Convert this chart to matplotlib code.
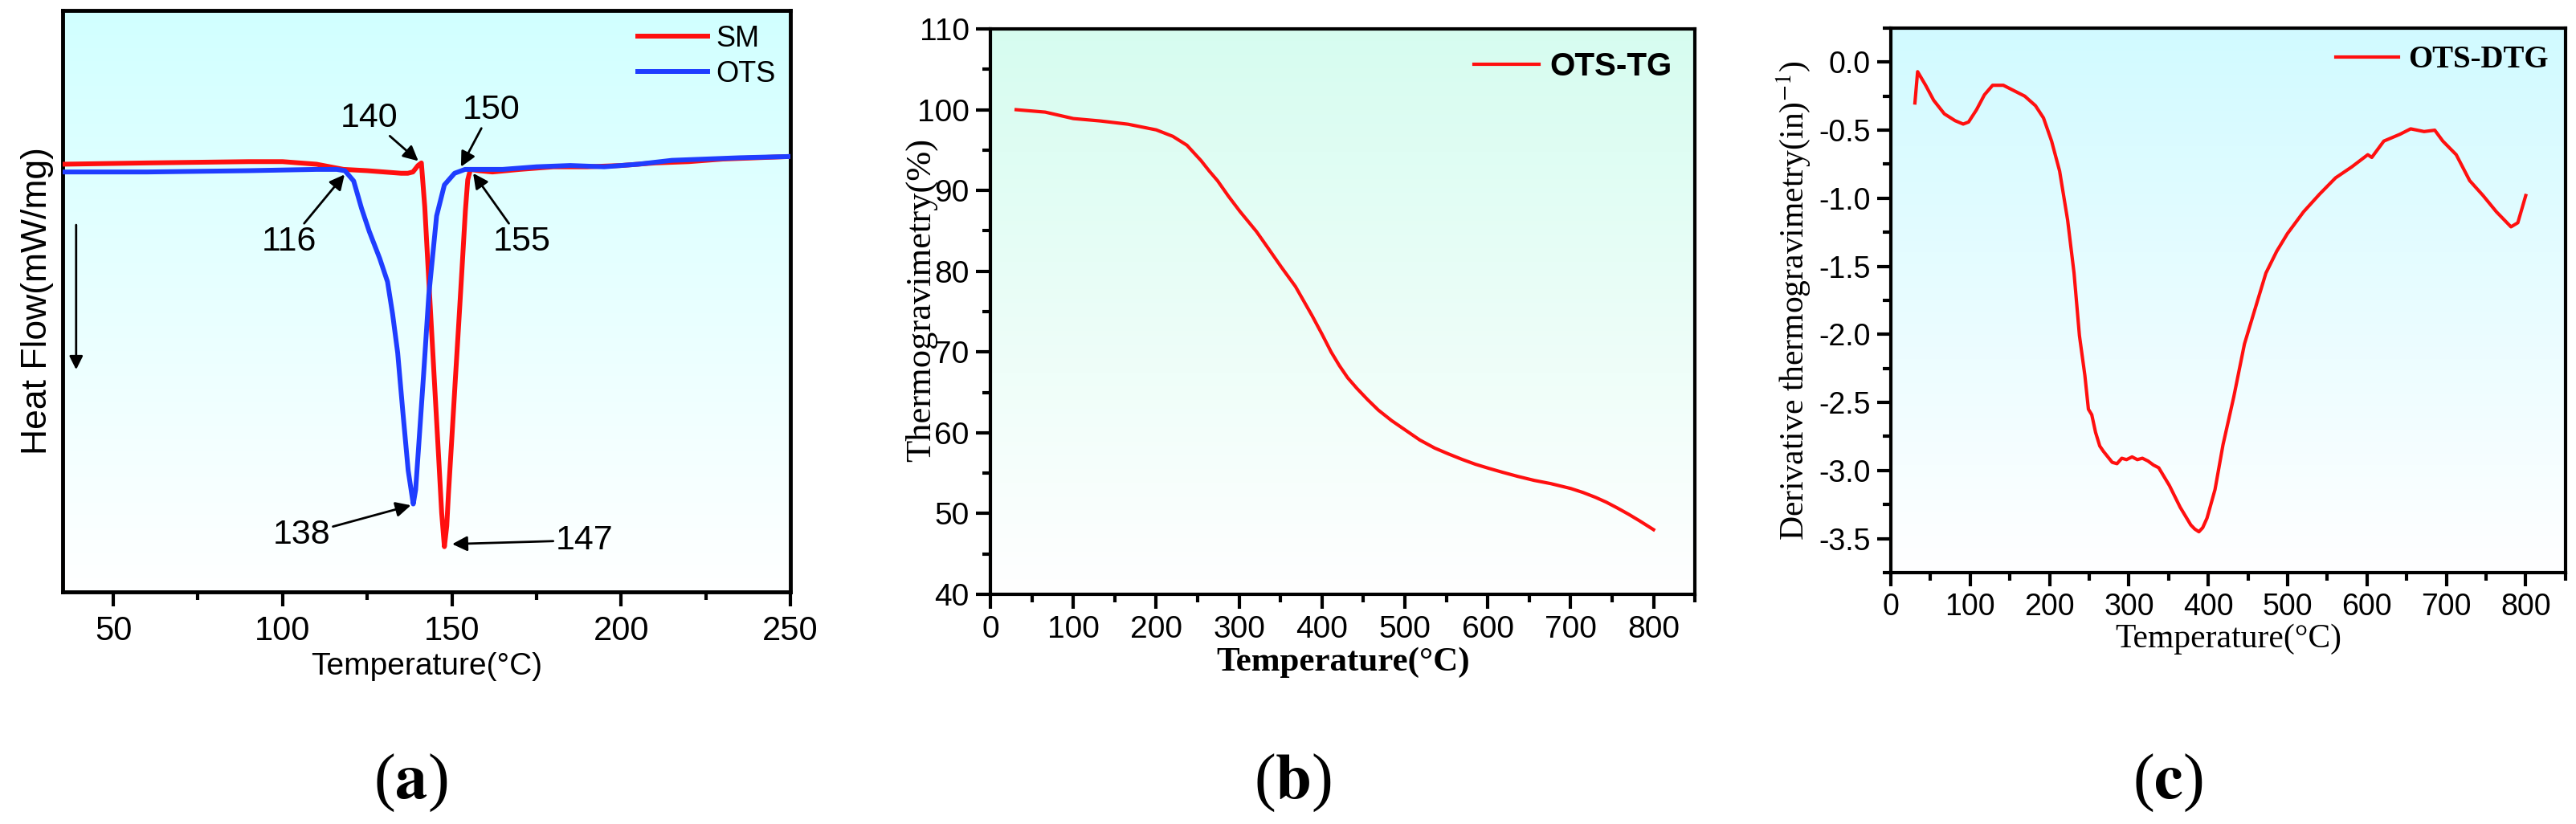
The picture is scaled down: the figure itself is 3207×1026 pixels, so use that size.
import numpy as np
import matplotlib
matplotlib.use('Agg')
import matplotlib.pyplot as plt
from matplotlib.ticker import MultipleLocator

plt.rcParams['mathtext.fontset'] = 'stix'
plt.rcParams['axes.unicode_minus'] = True

# (a) DSC curves, heat flow in arbitrary units
sm_temp = [35, 60, 90, 100, 110, 118, 125, 130, 135, 137, 138.5, 140, 141, 142, 143, 144, 145, 146, 147,
           147.8, 148.5, 149, 150, 151, 152, 153, 154, 154.7, 155.5, 158, 162, 170, 180, 190, 200, 210,
           220, 230, 240, 250]
sm_flow = [0.00, 0.01, 0.02, 0.02, 0.00, -0.04, -0.05, -0.06, -0.07, -0.07, -0.06, -0.01, 0.01, -0.33,
           -0.81, -1.28, -1.75, -2.22, -2.70, -2.96, -2.80, -2.55, -2.12, -1.68, -1.25, -0.81, -0.36,
           -0.12, -0.04, -0.05, -0.06, -0.04, -0.02, -0.02, -0.01, 0.01, 0.02, 0.04, 0.05, 0.06]
ots_temp = [35, 60, 90, 110, 116, 118.4, 121.0, 123.3, 125.6, 128.7, 131.0, 132.5, 134.0, 135.5, 137.1,
            138.6, 139.3, 140.1, 141.7, 143.2, 145.5, 147.8, 150.8, 153.9, 158, 165, 175, 185, 195, 205,
            215, 225, 235, 250]
ots_flow = [-0.06, -0.06, -0.05, -0.04, -0.04, -0.05, -0.13, -0.34, -0.52, -0.73, -0.91, -1.16, -1.46,
            -1.91, -2.37, -2.63, -2.52, -2.22, -1.61, -1.01, -0.40, -0.16, -0.07, -0.04, -0.04, -0.04,
            -0.02, -0.01, -0.02, 0.00, 0.03, 0.04, 0.05, 0.06]
# labels on the DSC curve: text, arrow tip, text position
dsc_notes = [('140', (140.1, 0.025), (125.5, 0.36)),
             ('150', (152.7, -0.02), (161.6, 0.42)),
             ('116', (118.3, -0.08), (101.9, -0.60)),
             ('155', (156.3, -0.07), (170.7, -0.60)),
             ('138', (137.9, -2.64), (105.7, -2.87)),
             ('147', (150.1, -2.94), (189.1, -2.91))]

# (b) TG curve
tg_temp = [31, 66, 100, 133, 166, 200, 220, 237, 254, 264, 274, 287, 301, 321, 334, 351, 368, 388, 400,
           411, 421, 431, 442, 455, 468, 484, 501, 518, 536, 552, 569, 585, 601, 618, 636, 656, 676, 700,
           715, 730, 743, 756, 770, 783, 800]
tg_mass = [100.0, 99.7, 98.9, 98.6, 98.2, 97.5, 96.7, 95.6, 93.7, 92.4, 91.2, 89.3, 87.4, 84.9, 83.0,
           80.5, 78.1, 74.5, 72.2, 70.0, 68.3, 66.8, 65.5, 64.1, 62.8, 61.5, 60.3, 59.1, 58.1, 57.4, 56.7,
           56.1, 55.6, 55.1, 54.6, 54.1, 53.7, 53.1, 52.6, 52.0, 51.4, 50.7, 49.9, 49.1, 48.0]

# (c) DTG curve
dtg_temp = [30.4, 33.8, 43.9, 54, 67.5, 81, 91.2, 98, 108, 118, 128.3, 141.8, 155.3, 168.8, 182.3, 192.4,
            202.6, 212.7, 222.8, 230.9, 237.7, 244.5, 249, 253.2, 258, 263.3, 268, 273.5, 279, 285, 291,
            297, 304, 310.6, 317, 324, 331, 337.6, 351, 364.6, 378, 383, 388.2, 393, 398.4, 408.5, 418.6,
            432.1, 445.6, 459.1, 472.6, 486.2, 499.7, 520, 540.2, 560.4, 580.7, 601, 606, 621.2, 641.5,
            655, 671.9, 685.4, 695.5, 712.4, 729.3, 746.2, 763.1, 781.4, 790, 800]
dtg_val = [-0.30, -0.07, -0.17, -0.28, -0.38, -0.43, -0.455, -0.44, -0.35, -0.24, -0.17, -0.17, -0.21,
           -0.25, -0.32, -0.41, -0.58, -0.80, -1.16, -1.55, -2.01, -2.30, -2.55, -2.59, -2.72, -2.82, -2.86,
           -2.90, -2.94, -2.95, -2.91, -2.92, -2.90, -2.92, -2.91, -2.93, -2.96, -2.98, -3.11, -3.27, -3.40,
           -3.43, -3.45, -3.42, -3.35, -3.14, -2.81, -2.46, -2.07, -1.81, -1.55, -1.39, -1.26, -1.10, -0.97,
           -0.85, -0.77, -0.68, -0.70, -0.58, -0.53, -0.49, -0.51, -0.50, -0.58, -0.68, -0.87, -0.98, -1.10,
           -1.21, -1.18, -0.98]


def gradient_bg(ax, top_rgb):
    # vertical fade from a pale tint at the top to white at the bottom
    t = np.linspace(0, 1, 256).reshape(-1, 1, 1)
    top = np.array(top_rgb).reshape(1, 1, 3)
    img = top * (1 - t) + np.ones((1, 1, 3)) * t
    ax.imshow(img, extent=[0, 1, 0, 1], transform=ax.transAxes, aspect='auto', zorder=0)


fig = plt.figure(figsize=(32.07, 10.26), dpi=100)

sans = 'Liberation Sans'
serif = 'Liberation Serif'
red = '#ff0f0f'
blue = '#1f3dff'

# ---- (a)
ax1 = fig.add_axes([0.0243, 0.2817, 0.2825, 0.7056])
gradient_bg(ax1, (0.82, 1.0, 1.0))
ax1.plot(sm_temp, sm_flow, color=red, lw=4.3, label='SM', zorder=3)
ax1.plot(ots_temp, ots_flow, color=blue, lw=4.3, label='OTS', zorder=3)
ax1.set_xlim(35, 250)
ax1.set_ylim(-3.31, 1.19)
ax1.set_yticks([])
ax1.xaxis.set_major_locator(MultipleLocator(50))
ax1.xaxis.set_minor_locator(MultipleLocator(25))
ax1.tick_params(axis='x', which='major', direction='out', length=13, width=3, labelsize=30, pad=8)
ax1.tick_params(axis='x', which='minor', direction='out', length=7, width=3)
for lab in ax1.get_xticklabels():
    lab.set_family(sans)
for s in ax1.spines.values():
    s.set_linewidth(3.5)
ax1.set_xlabel('Temperature(°C)', family=sans, fontsize=28, labelpad=4)
ax1.set_ylabel('Heat Flow(mW/mg)', family=sans, fontsize=32, labelpad=8)
for txt, tip, pos in dsc_notes:
    ax1.annotate(txt, xy=tip, xytext=pos, fontsize=31, family=sans, ha='center', va='center',
                 arrowprops=dict(arrowstyle='-|>', color='k', lw=2, mutation_scale=28, shrinkA=0, shrinkB=0),
                 zorder=4)
ax1.annotate('', xy=(39.0, -1.59), xytext=(39.0, -0.47),
             arrowprops=dict(arrowstyle='-|>', color='k', lw=2, mutation_scale=25, shrinkA=0, shrinkB=0))
ax1.legend(loc='upper right', frameon=False, prop={'family': sans, 'size': 26}, handlelength=2.4,
           handletextpad=0.3, labelspacing=0.25, borderaxespad=0.1)

# ---- (b)
ax2 = fig.add_axes([0.3845, 0.2788, 0.2735, 0.6861])
gradient_bg(ax2, (0.84, 0.99, 0.94))
ax2.plot(tg_temp, tg_mass, color=red, lw=3, label='OTS-TG', zorder=3)
ax2.set_xlim(0, 850)
ax2.set_ylim(40, 110)
ax2.xaxis.set_major_locator(MultipleLocator(100))
ax2.xaxis.set_minor_locator(MultipleLocator(50))
ax2.yaxis.set_major_locator(MultipleLocator(10))
ax2.yaxis.set_minor_locator(MultipleLocator(5))
ax2.tick_params(which='major', direction='out', length=13, width=3, labelsize=28, pad=6)
ax2.tick_params(which='minor', direction='out', length=7, width=3)
for lab in ax2.get_xticklabels() + ax2.get_yticklabels():
    lab.set_family(sans)
for s in ax2.spines.values():
    s.set_linewidth(3)
ax2.set_xlabel('Temperature(°C)', family=serif, fontweight='bold', fontsize=31, labelpad=2)
ax2.set_ylabel('Thermogravimetry(%)', family=serif, fontsize=32, labelpad=8)
ax2.yaxis.set_label_coords(-0.075, 0.52)
ax2.legend(loc='upper right', frameon=False, prop={'family': sans, 'size': 29, 'weight': 'bold'},
           handlelength=2.0, handletextpad=0.35, borderaxespad=0.3)

# ---- (c)
ax3 = fig.add_axes([0.7340, 0.3051, 0.2619, 0.6608])
gradient_bg(ax3, (0.82, 0.98, 1.0))
ax3.plot(dtg_temp, dtg_val, color=red, lw=3, label='OTS-DTG', zorder=3)
ax3.set_xlim(0, 850)
ax3.set_ylim(-3.75, 0.25)
ax3.xaxis.set_major_locator(MultipleLocator(100))
ax3.xaxis.set_minor_locator(MultipleLocator(50))
ax3.yaxis.set_major_locator(MultipleLocator(0.5))
ax3.yaxis.set_minor_locator(MultipleLocator(0.25))
ax3.yaxis.set_major_formatter(matplotlib.ticker.FormatStrFormatter('%.1f'))
ax3.tick_params(which='major', direction='out', length=12, width=3, labelsize=27, pad=6)
ax3.tick_params(which='minor', direction='out', length=7, width=3)
for lab in ax3.get_xticklabels() + ax3.get_yticklabels():
    lab.set_family(sans)
for s in ax3.spines.values():
    s.set_linewidth(3)
ax3.set_xlabel('Temperature(°C)', family=serif, fontsize=30, labelpad=2)
ax3.set_ylabel('Derivative thermogravimetry(in)$^{-1}$)', family=serif, fontsize=30, labelpad=6)
ax3.legend(loc='upper right', frameon=False, prop={'family': serif, 'size': 28, 'weight': 'bold'},
           handlelength=2.0, handletextpad=0.3, borderaxespad=0.15)

# panel letters
for xpos, letter in [(0.1593, 'a'), (0.5017, 'b'), (0.8416, 'c')]:
    fig.text(xpos, 0.05, '(' + r'$\mathbf{' + letter + '}$' + ')', family=serif, fontsize=58,
             ha='center', va='center')

fig.savefig('out.png', dpi=100)
